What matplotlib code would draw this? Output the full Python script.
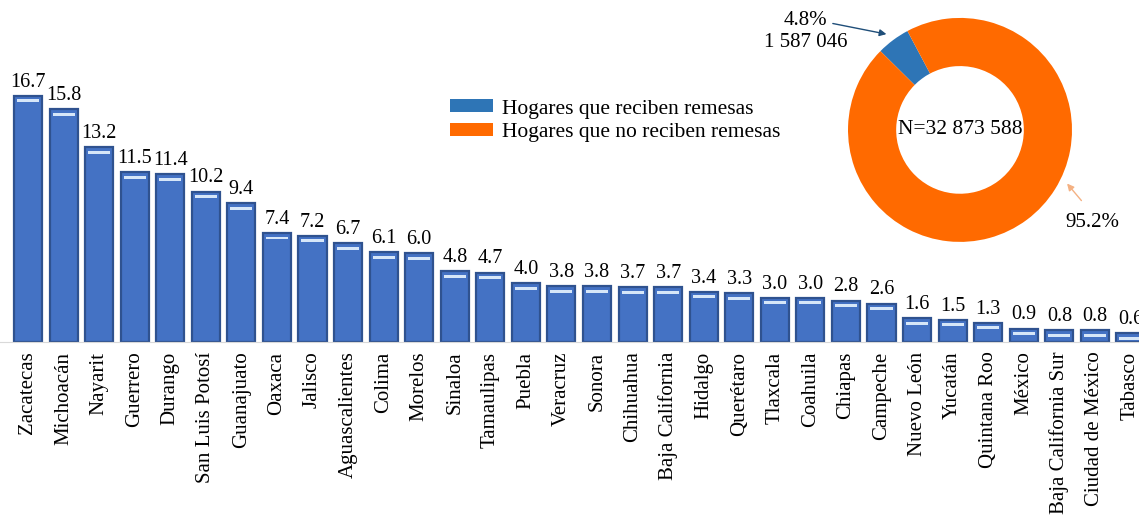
import numpy as np
import matplotlib
matplotlib.use("Agg")
from matplotlib import pyplot as plt

plt.rcParams['font.family'] = ['Liberation Serif', 'DejaVu Serif']

# porcentaje de hogares que reciben remesas por entidad
states = ['Zacatecas', 'Michoacán', 'Nayarit', 'Guerrero', 'Durango',
          'San Luis Potosí', 'Guanajuato', 'Oaxaca', 'Jalisco', 'Aguascalientes',
          'Colima', 'Morelos', 'Sinaloa', 'Tamaulipas', 'Puebla', 'Veracruz',
          'Sonora', 'Chihuahua', 'Baja California', 'Hidalgo', 'Querétaro',
          'Tlaxcala', 'Coahuila', 'Chiapas', 'Campeche', 'Nuevo León', 'Yucatán',
          'Quintana Roo', 'México', 'Baja California Sur', 'Ciudad de México',
          'Tabasco']
pct = [16.7, 15.8, 13.2, 11.5, 11.4, 10.2, 9.4, 7.4, 7.2, 6.7, 6.1, 6.0, 4.8,
       4.7, 4.0, 3.8, 3.8, 3.7, 3.7, 3.4, 3.3, 3.0, 3.0, 2.8, 2.6, 1.6, 1.5,
       1.3, 0.9, 0.8, 0.8, 0.6]

# donut nacional
donut_labels = ['Hogares que reciben remesas', 'Hogares que no reciben remesas']
donut_pct = [4.8, 95.2]
hogares_remesas = '1 587 046'
total_hogares = 'N=32 873 588'

bar_color = '#4472C4'
edge_color = '#2F528F'
blue = '#2E75B6'
orange = '#FF6A00'

fig = plt.figure(figsize=(11.39, 5.18), dpi=100)

############ barras ############
ax = fig.add_axes([0, 0.340, 1, 0.66])
x = np.arange(len(states))
ax.bar(x, pct, width=0.79, color=bar_color, edgecolor=edge_color, linewidth=1.6)
# brillo en la parte superior de cada barra
ax.bar(x, [0.2] * len(pct), bottom=np.array(pct) - 0.45, width=0.62,
       color='#D6E6F8', linewidth=0)

for xi, v in zip(x, pct):
    ax.annotate('{:.1f}'.format(v), (xi, v), xytext=(0, 3),
                textcoords='offset points', ha='center', va='bottom',
                fontsize=14.5, annotation_clip=False)

ax.set_xlim(-0.787, 31.24)
ax.set_ylim(0, 23.2)
ax.set_xticks(x)
ax.set_xticklabels(states, rotation=90, fontsize=15)
ax.tick_params(axis='x', length=0, pad=7)
ax.set_yticks([])
for s in ['top', 'left', 'right']:
    ax.spines[s].set_visible(False)
ax.spines['bottom'].set_color('#D9D9D9')
ax.patch.set_alpha(0)

############ dona ############
ax2 = fig.add_axes([0.7445, 0.533, 0.1967, 0.4324])
wedges, _ = ax2.pie(donut_pct, colors=[blue, orange], startangle=118,
                    counterclock=True, radius=1.0,
                    wedgeprops=dict(width=0.43, linewidth=0))
ax2.set_xlim(-1, 1)
ax2.set_ylim(-1, 1)
ax2.set_aspect('equal')
ax2.axis('off')

ax2.text(0, 0.0, total_hogares, ha='center', va='center', fontsize=15.5)

mid = np.deg2rad(118 + donut_pct[0] * 3.6 / 2)
ax2.annotate('', xy=(1.06 * np.cos(mid), 1.06 * np.sin(mid)), xytext=(-1.16, 0.955),
             arrowprops=dict(arrowstyle='-|>', color='#1F4E79', lw=1, mutation_scale=10),
             annotation_clip=False)
ax2.text(-1.38, 0.98, '{:.1f}%'.format(donut_pct[0]), ha='center', va='center',
         fontsize=15, clip_on=False)
ax2.text(-1.375, 0.78, hogares_remesas, ha='center', va='center',
         fontsize=15, clip_on=False)

ax2.annotate('', xy=(0.94, -0.46), xytext=(1.10, -0.65),
             arrowprops=dict(arrowstyle='-|>', color='#F4B183', lw=1, mutation_scale=10),
             annotation_clip=False)
ax2.text(1.18, -0.83, '{:.1f}%'.format(donut_pct[1]), ha='center', va='center',
         fontsize=15, clip_on=False)

fig.legend(wedges, donut_labels, loc='upper left', bbox_to_anchor=(0.395, 0.808),
           frameon=False, fontsize=15.5, handlelength=2.0, handleheight=0.55,
           handletextpad=0.4, labelspacing=0.2, borderpad=0, borderaxespad=0)

fig.savefig('out.png', dpi=100)
